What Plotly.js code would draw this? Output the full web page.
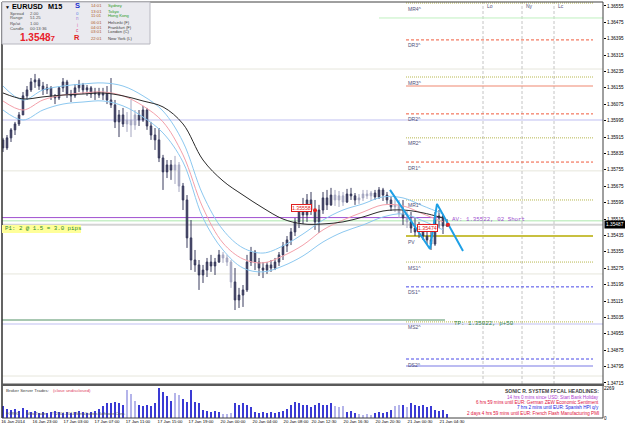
<!DOCTYPE html>
<html><head><meta charset="utf-8">
<script src="https://cdn.plot.ly/plotly-3.0.1.min.js"></script>
<style>html,body{margin:0;padding:0;background:#fff;}#chart{width:625px;height:429px;}</style>
</head><body><div id="chart"></div>
<script>
// ---- data (EURUSD M15, shown as 30-min candles) ----
const openP = [1.35901,1.35862,1.35911,1.35950,1.35979,1.36023,1.36116,1.36145,1.36184,1.36194,
 1.36164,1.36145,1.36155,1.36116,1.36106,1.36155,1.36184,1.36125,1.36116,1.36155,
 1.36169,1.36145,1.36155,1.36125,1.36135,1.36120,1.36130,1.36096,1.36072,1.35989,
 1.36023,1.35979,1.35998,1.35974,1.36023,1.35998,1.36047,1.35969,1.35925,1.35901,
 1.35813,1.35745,1.35779,1.35754,1.35779,1.35676,1.35608,1.35423,1.35315,1.35291,
 1.35242,1.35266,1.35305,1.35286,1.35305,1.35340,1.35325,1.35305,1.35208,1.35120,
 1.35144,1.35169,1.35305,1.35354,1.35305,1.35276,1.35266,1.35291,1.35276,1.35305,
 1.35340,1.35384,1.35413,1.35452,1.35501,1.35559,1.35535,1.35608,1.35559,1.35501,
 1.35559,1.35618,1.35584,1.35632,1.35608,1.35628,1.35598,1.35637,1.35628,1.35608,
 1.35618,1.35637,1.35628,1.35642,1.35623,1.35657,1.35632,1.35608,1.35574,1.35584,
 1.35540,1.35520,1.35501,1.35471,1.35452,1.35462,1.35432,1.35413,1.35393,1.35520,
 1.35530,1.35481];
const highP = [1.35911,1.35925,1.35959,1.35989,1.36037,1.36135,1.36164,1.36203,1.36223,1.36203,
 1.36184,1.36174,1.36164,1.36125,1.36164,1.36203,1.36194,1.36145,1.36174,1.36194,
 1.36179,1.36169,1.36164,1.36155,1.36155,1.36155,1.36164,1.36203,1.36096,1.36047,
 1.36057,1.36037,1.36096,1.36047,1.36047,1.36067,1.36057,1.35989,1.35959,1.35959,
 1.35828,1.35803,1.35803,1.35823,1.35793,1.35691,1.35632,1.35510,1.35364,1.35315,
 1.35291,1.35325,1.35340,1.35325,1.35364,1.35354,1.35340,1.35315,1.35276,1.35179,
 1.35193,1.35340,1.35379,1.35364,1.35325,1.35305,1.35305,1.35315,1.35325,1.35354,
 1.35403,1.35432,1.35471,1.35520,1.35584,1.35618,1.35637,1.35647,1.35608,1.35584,
 1.35647,1.35657,1.35667,1.35657,1.35652,1.35647,1.35662,1.35667,1.35642,1.35637,
 1.35657,1.35657,1.35652,1.35657,1.35671,1.35667,1.35647,1.35628,1.35618,1.35608,
 1.35608,1.35559,1.35549,1.35520,1.35501,1.35491,1.35481,1.35462,1.35549,1.35559,
 1.35540,1.35515];
const lowP = [1.35842,1.35852,1.35891,1.35925,1.35969,1.36023,1.36096,1.36135,1.36155,1.36145,
 1.36120,1.36125,1.36096,1.36076,1.36096,1.36135,1.36106,1.36086,1.36106,1.36135,
 1.36125,1.36116,1.36106,1.36096,1.36106,1.36096,1.36076,1.36057,1.35959,1.35915,
 1.35964,1.35940,1.35915,1.35950,1.35969,1.35989,1.35950,1.35901,1.35852,1.35793,
 1.35657,1.35715,1.35706,1.35686,1.35647,1.35559,1.35374,1.35266,1.35257,1.35169,
 1.35203,1.35232,1.35257,1.35242,1.35301,1.35301,1.35286,1.35179,1.35071,1.35081,
 1.35086,1.35159,1.35286,1.35266,1.35237,1.35227,1.35247,1.35257,1.35266,1.35286,
 1.35315,1.35354,1.35388,1.35432,1.35471,1.35491,1.35501,1.35535,1.35462,1.35447,
 1.35540,1.35559,1.35579,1.35579,1.35574,1.35579,1.35593,1.35608,1.35584,1.35589,
 1.35603,1.35613,1.35603,1.35608,1.35613,1.35603,1.35589,1.35554,1.35549,1.35520,
 1.35486,1.35471,1.35447,1.35432,1.35423,1.35413,1.35388,1.35364,1.35384,1.35471,
 1.35442,1.35476];
const closeP = [1.35862,1.35911,1.35950,1.35979,1.36023,1.36116,1.36145,1.36184,1.36194,1.36164,
 1.36145,1.36155,1.36116,1.36106,1.36155,1.36184,1.36125,1.36116,1.36155,1.36169,
 1.36145,1.36155,1.36125,1.36135,1.36120,1.36130,1.36096,1.36072,1.35989,1.36023,
 1.35979,1.35998,1.35974,1.36023,1.35998,1.36047,1.35969,1.35925,1.35901,1.35813,
 1.35745,1.35779,1.35754,1.35779,1.35676,1.35608,1.35423,1.35315,1.35291,1.35242,
 1.35266,1.35305,1.35286,1.35305,1.35340,1.35325,1.35305,1.35208,1.35120,1.35144,
 1.35169,1.35305,1.35354,1.35305,1.35276,1.35266,1.35291,1.35276,1.35305,1.35340,
 1.35384,1.35413,1.35452,1.35501,1.35559,1.35535,1.35608,1.35559,1.35501,1.35559,
 1.35618,1.35584,1.35632,1.35608,1.35628,1.35598,1.35637,1.35628,1.35608,1.35618,
 1.35637,1.35628,1.35642,1.35623,1.35657,1.35632,1.35608,1.35574,1.35584,1.35540,
 1.35520,1.35501,1.35471,1.35452,1.35462,1.35432,1.35413,1.35393,1.35520,1.35530,
 1.35481,1.35487];
const volume = [880,660,590,660,510,730,590,440,510,370,
 440,370,440,510,440,370,440,370,440,510,
 440,370,440,510,660,880,1170,1100,1240,1100,
 950,2120,1830,1320,950,880,950,880,1100,2270,
 1970,1680,1320,1900,1750,1460,1240,2120,1240,1100,
 590,510,440,510,440,290,290,370,1170,950,
 1170,1020,800,440,370,440,370,440,370,440,
 510,660,1020,1240,1100,1020,950,800,1020,1100,
 1020,950,1170,880,800,880,440,510,370,290,
 220,290,220,370,440,370,440,590,880,950,
 1020,800,1170,1020,880,950,800,880,590,510,
 590,300];
const lightBars = [31,32,33,43,44,55,56,57,83,84,85,89,90,91,92,98,99,101];

// moving averages (sampled every 10 M15 bars)
const maBars  = [0,10,20,30,40,50,60,70,80,90,100,110,120,130,140,150,160,170,180,190,200,210,220];
const maSlow  = [1.36130,1.36101,1.36111,1.36120,1.36125,1.36130,1.36116,1.36091,1.36062,1.35979,1.35803,1.35701,1.35632,1.35569,1.35515,1.35491,1.35491,1.35501,1.35525,1.35554,1.35559,1.35545,1.35520];
const maMid   = [1.36091,1.36047,1.36096,1.36120,1.36130,1.36135,1.36116,1.36067,1.35989,1.35828,1.35569,1.35398,1.35320,1.35301,1.35335,1.35388,1.35462,1.35510,1.35549,1.35584,1.35579,1.35540,1.35501];
const maUpper = [1.36164,1.36096,1.36145,1.36164,1.36174,1.36179,1.36164,1.36116,1.36042,1.35891,1.35632,1.35462,1.35374,1.35349,1.35384,1.35442,1.35510,1.35559,1.35589,1.35623,1.35618,1.35579,1.35540];
const maLower = [1.36047,1.35998,1.36047,1.36076,1.36086,1.36091,1.36067,1.36013,1.35935,1.35793,1.35520,1.35364,1.35276,1.35257,1.35286,1.35335,1.35403,1.35452,1.35486,1.35525,1.35540,1.35506,1.35462];

// zigzag
const zigBars   = [193.5,213.5,217,230];
const zigPrices = [1.35657,1.35369,1.35589,1.35359];

// pivot levels
const pivotNames  = ['MR4^','DR3^','MR3^','DR2^','MR2^','DR1^','MR1^','PV','MS1^','DS1^','MS2^','DS2^'];
const pivotLevels = [1.36569,1.36389,1.36208,1.36028,1.35911,1.35793,1.35608,1.35432,1.35305,1.35184,1.35013,1.34832];

// other levels
const bidPrice = 1.35487, askPrice = 1.35507, avgPrice = 1.35522, tpPrice = 1.35022;
const faintLevels = [1.36247,1.35750,1.35247,1.34749];
const lavenderLevels = [1.35998,1.35003];
const dayHigh = 1.36164, dayLow = 1.34798, weekLine = 1.36496;
const markPrices = [1.35558,1.35474];
const markBars = [156,222.5];

// sessions
const sessionBars = [240,259.5,275.5];
const sessionNames = ['Lo','Ny','Lc'];

// axis ticks
const priceTicks = [1.34715,1.34795,1.34875,1.34955,1.35035,1.35115,1.35195,1.35275,1.35355,1.35435,1.35515,1.35595,1.35675,1.35755,1.35835,1.35915,1.35995,1.36075,1.36155,1.36235,1.36315,1.36395,1.36475,1.36555];
const timeTickBars = [5,21,36.5,52,67.5,83.5,99,115,131,146.5,160.5,176.5,192.5,208.5,224.5];
const timeTickLabels = ['16 Jan 2014','16 Jan 23:00','17 Jan 03:00','17 Jan 07:00','17 Jan 11:00','17 Jan 15:00','17 Jan 19:00','20 Jan 00:00','20 Jan 04:00','20 Jan 08:00','20 Jan 12:30','20 Jan 16:30','20 Jan 20:30','21 Jan 00:30','21 Jan 04:30'];

// info panel texts
const infoKeys = ['Spread','Range','Rp/at','Candle'];
const infoVals = ['2.00','51.25','1.00','00:13:36'];
const sessTimes = ['14:01','13:01','11:01','06:01','04:01','03:01','22:01'];
const sessCities = ['Sydney','Tokyo','Hong Kong','Helsinki (F)','Frankfurt (F)','London (C)','New York (L)'];
const sessOpen = [true,true,true,false,false,false,false];
const headlines = ['14 hrs 0 mins since USD: Start Bank Holiday','6 hrs 59 mins until EUR: German ZEW Economic Sentiment','7 hrs 2 mins until EUR: Spanish HPI q/y','2 days 4 hrs 59 mins until EUR: French Flash Manufacturing PMI'];
const headlineColors = ['#b040d0','#e0103a','#1818e0','#e0103a'];

// ---- build ----
const W=601,H=416,L=2,T=2;
const px = x => (x-L)/W, py = y => 1-(y-T)/H;
const FS = 'Liberation Sans, Arial, sans-serif', FM = 'Liberation Mono, Courier New, monospace';
const bars = closeP.map((_,i)=>2*i);
const light = bars.map((_,i)=>lightBars.includes(i));
function sub(arr, want){ return arr.filter((_,i)=>light[i]===want); }

const traces = [];
[[false,'#383a5c'],[true,'#a4a6c0']].forEach(([w,col])=>{
  traces.push({type:'candlestick', x:sub(bars,w), open:sub(openP,w), high:sub(highP,w), low:sub(lowP,w), close:sub(closeP,w),
    increasing:{line:{color:col,width:1}, fillcolor:col}, decreasing:{line:{color:col,width:1}, fillcolor:col},
    whiskerwidth:0, hoverinfo:'skip', xaxis:'x', yaxis:'y'});
});
const maLine = (y,c,w)=>({type:'scatter',mode:'lines',x:maBars,y:y,line:{color:c,width:w,shape:'spline',smoothing:1},hoverinfo:'skip'});
traces.push(maLine(maUpper,'#8cc8f0',1));
traces.push(maLine(maLower,'#8cc8f0',1));
traces.push(maLine(maMid,'#f4a0aa',1));
traces.push(maLine(maSlow,'#2a2a2a',1));
traces.push({type:'scatter',mode:'lines',x:zigBars,y:zigPrices,line:{color:'#1ea0e6',width:2},hoverinfo:'skip'});
traces.push({type:'scatter',mode:'markers',x:markBars,y:[markPrices[0],bidPrice],marker:{color:'#e82020',size:4},hoverinfo:'skip'});
traces.push({type:'bar',x:bars,y:volume,yaxis:'y2',width:0.9,marker:{color:light.map(l=>l?'#b4b4ea':'#3a3ad4'),line:{width:0}},hoverinfo:'skip'});

const shapes = [];
const hl = (p,c,w,dash,x0,x1,xr)=>shapes.push({type:'line',xref:xr||'x',yref:'y',x0:x0,x1:x1,y0:p,y1:p,line:{color:c,width:w,dash:dash||'solid'},layer:'below'});
faintLevels.forEach(p=>hl(p,'#e6e6dc',1,'solid',0,1,'paper'));
lavenderLevels.forEach(p=>hl(p,'#d4d4f6',1.5,'solid',0,1,'paper'));
hl(weekLine,'#bff0bf',1,'solid',188,300);
hl(askPrice,'#c8f0c8',1.5,'solid',0,1,'paper');
hl(bidPrice,'#d4d4d4',2,'solid',0,1,'paper');
hl(avgPrice,'#a050d0',1,'solid',-0.5,219);
hl(tpPrice,'#a8c8b2',2,'solid',-0.5,221);
hl(dayHigh,'#f08870',1.2,'solid',201.5,295);
hl(dayLow,'#bcbcf2',2,'solid',201.5,295);
pivotNames.forEach((n,i)=>{
  const p=pivotLevels[i];
  if(n==='PV') hl(p,'#c8c040',2,'solid',201.5,295);
  else if(n.startsWith('DR')) hl(p,'#f05a3c',1,'3px,2px',201.5,295);
  else if(n.startsWith('DS')) hl(p,'#4848e8',1,'3px,2px',201.5,295);
  else hl(p,'#b8b850',1,'1px,1px',201.5,295);
});
sessionBars.forEach(b=>shapes.push({type:'line',xref:'x',yref:'paper',x0:b,x1:b,y0:py(384),y1:1,line:{color:'#c4c4c4',width:1,dash:'3px,2px'},layer:'below'}));
// frame
shapes.push({type:'line',xref:'paper',yref:'paper',x0:0,x1:0,y0:0,y1:1,line:{color:'#303030',width:1.5}});
shapes.push({type:'line',xref:'paper',yref:'paper',x0:1,x1:1,y0:0,y1:1,line:{color:'#404040',width:1}});
shapes.push({type:'line',xref:'paper',yref:'paper',x0:0,x1:1,y0:1,y1:1,line:{color:'#404040',width:1}});
shapes.push({type:'line',xref:'paper',yref:'paper',x0:0,x1:1,y0:0,y1:0,line:{color:'#404040',width:1}});
shapes.push({type:'rect',xref:'paper',yref:'paper',x0:0,x1:px(604),y0:py(386),y1:py(383.5),fillcolor:'#5a5a5a',line:{width:0}});
// info panel + P1 bg
shapes.push({type:'rect',xref:'paper',yref:'paper',x0:px(2),x1:px(150),y0:py(44),y1:py(2),fillcolor:'#eaeaef',line:{color:'#b8b8c0',width:1}});
shapes.push({type:'rect',xref:'paper',yref:'paper',x0:px(2),x1:px(81),y0:py(233),y1:py(225),fillcolor:'#ffff99',line:{width:0}});

const ann = [];
const T_ = (x,y,text,size,color,opts)=>ann.push(Object.assign({xref:'paper',yref:'paper',x:px(x),y:py(y),text:text,showarrow:false,xanchor:'left',yanchor:'middle',font:{family:FS,size:size,color:color}},opts||{}));
// pivot labels
pivotNames.forEach((n,i)=>ann.push({xref:'x',yref:'y',x:201.5,y:pivotLevels[i],text:n,showarrow:false,xanchor:'left',yanchor:'top',yshift:-0.5,font:{family:FS,size:5,color:'#50507a'}}));
sessionNames.forEach((n,i)=>ann.push({xref:'x',yref:'paper',x:sessionBars[i]+1,y:py(6),text:n,showarrow:false,xanchor:'left',yanchor:'middle',font:{family:FS,size:5,color:'#50507a'}}));
ann.push({xref:'x',yref:'y',x:222,y:avgPrice,text:'AV: 1.35522, 02 Short',showarrow:false,xanchor:'left',yanchor:'middle',xshift:3,yshift:-2,font:{family:FM,size:5.8,color:'#a050d0'}});
ann.push({xref:'x',yref:'y',x:224.5,y:tpPrice,text:'TP: 1.35022, p+50',showarrow:false,xanchor:'left',yanchor:'middle',yshift:-3,font:{family:FM,size:5.8,color:'#3a8a4a'}});
T_(3,229,'P1: 2 @ 1.5 = 3.0 pips',5.8,'#2a8a2a',{font:{family:FM,size:5.8,color:'#2a8a2a'}});
ann.push({xref:'x',yref:'y',x:149,y:markPrices[0],text:markPrices[0].toFixed(5),showarrow:false,yshift:2,font:{family:FS,size:5.2,color:'#e02020'},bgcolor:'#fff',bordercolor:'#e02020',borderwidth:1,borderpad:0});
ann.push({xref:'x',yref:'y',x:212,y:markPrices[1],text:markPrices[1].toFixed(5),showarrow:false,yshift:-1,font:{family:FS,size:5.2,color:'#e02020'},bgcolor:'#fff',bordercolor:'#e02020',borderwidth:1,borderpad:0});
// current price
ann.push({xref:'paper',yref:'y',x:1,y:bidPrice,xshift:1,text:bidPrice.toFixed(5),showarrow:false,xanchor:'left',yanchor:'middle',bgcolor:'#000',font:{family:FS,size:4.8,color:'#fff'},borderpad:1});
// info panel
T_(3,7,'▼',5,'#000');
T_(10,7,'<b>EURUSD</b>',7.3,'#000');
T_(46,7,'<b>M15</b>',7.3,'#000');
infoKeys.forEach((k,i)=>{T_(8,13+5*i,k,4.3,'#505050');T_(28,13+5*i,infoVals[i],4.3,'#505050');});
T_(18,37,'<b>1.3548<span style="font-size:8px">7</span></b>',10,'#e8202a');
const sonic=[['<b>S</b>',7.5,'#2030d0'],['o',4.5,'#6a8ae8'],['n',4.5,'#a080d8'],['i',4.5,'#e070b0'],['c',4.5,'#e04080'],['<b>R</b>',7.5,'#e02020']];
[6,13,19,25,31,37].forEach((y,i)=>T_(77,y,sonic[i][0],sonic[i][1],sonic[i][2],{xanchor:'center'}));
[6,11,16,22,27,32,38].forEach((y,i)=>{T_(89,y,sessTimes[i],4.2,'#b0602a');T_(106,y,sessCities[i],4.2,sessOpen[i]?'#2a9a2a':'#404040');});
// volume panel texts
T_(4,390,'Broker Server Trades:',4.4,'#404040');
T_(51,390,'(close undisclosed)',4.4,'#e04060');
T_(4,413,'FOREX      MetaTrader    © 2001-2014 MetaQuotes Software Corp.',4,'#505050');
T_(601,391,'<b>SONIC R. SYSTEM FFCAL HEADLINES:</b>',5,'#404040',{xanchor:'right'});
headlines.forEach((h,i)=>T_(601,397.5+5.2*i,h,4.6,headlineColors[i],{xanchor:'right'}));

const layout = {
  width:625,height:429,margin:{l:2,r:22,t:2,b:11},paper_bgcolor:'#fff',plot_bgcolor:'#fff',showlegend:false,
  boxgap:0.45,bargap:0,
  xaxis:{range:[-0.5,300],anchor:'y2',showgrid:false,zeroline:false,showline:false,tickvals:timeTickBars,ticktext:timeTickLabels,
    tickfont:{family:FS,size:4.3,color:'#000'},ticks:'',tickangle:0,rangeslider:{visible:false},fixedrange:true},
  yaxis:{domain:[py(384),1],range:[1.34710,1.36574],side:'right',anchor:'x',tickvals:priceTicks,ticktext:priceTicks.map(v=>v.toFixed(5)),
    tickfont:{family:FS,size:4.6,color:'#000'},ticks:'outside',ticklen:2,tickcolor:'#000',showgrid:false,zeroline:false,showline:false,fixedrange:true},
  yaxis2:{domain:[0,py(386)],range:[0,2420],side:'right',anchor:'x',tickvals:[0,2269],ticktext:['0','2269'],
    tickfont:{family:FS,size:4.6,color:'#000'},ticks:'',showgrid:false,zeroline:false,showline:false,fixedrange:true},
  shapes:shapes,annotations:ann
};
Plotly.newPlot('chart',traces,layout,{staticPlot:true,displayModeBar:false});
</script></body></html>
